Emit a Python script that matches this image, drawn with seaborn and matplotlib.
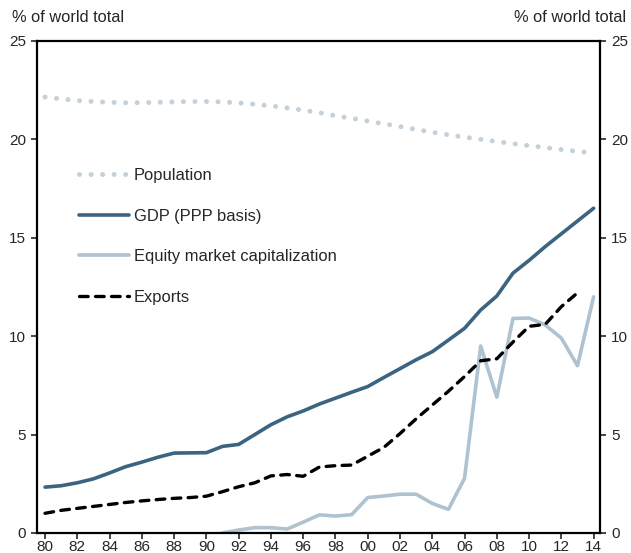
import numpy as np
import pandas as pd
import seaborn as sns
import matplotlib
matplotlib.use("Agg")
import matplotlib.pyplot as plt

years = list(range(1980, 2015))

population = [22.15, 22.05, 21.97, 21.92, 21.88, 21.86, 21.86, 21.88, 21.90, 21.92,
              21.92, 21.90, 21.85, 21.78, 21.70, 21.60, 21.48, 21.35, 21.20, 21.07,
              20.93, 20.79, 20.65, 20.50, 20.36, 20.23, 20.11, 20.00, 19.89, 19.78,
              19.68, 19.58, 19.48, 19.39, 19.30]

gdp = [2.33, 2.40, 2.55, 2.75, 3.05, 3.37, 3.60, 3.85, 4.06, 4.07,
       4.08, 4.40, 4.50, 5.00, 5.50, 5.90, 6.20, 6.55, 6.85, 7.15,
       7.44, 7.90, 8.35, 8.80, 9.21, 9.80, 10.40, 11.33, 12.04, 13.20,
       13.85, 14.55, 15.20, 15.85, 16.50]

equity_years = list(range(1991, 2015))
equity = [0.0, 0.15, 0.27, 0.27, 0.20, 0.55, 0.92, 0.86, 0.93,
          1.80, 1.88, 1.97, 1.97, 1.50, 1.20, 2.78, 9.50, 6.90, 10.90,
          10.92, 10.57, 9.90, 8.50, 12.00]

export_years = list(range(1980, 2014))
exports = [1.00, 1.15, 1.25, 1.35, 1.45, 1.55, 1.63, 1.70, 1.76, 1.80,
           1.87, 2.10, 2.35, 2.55, 2.90, 2.97, 2.88, 3.35, 3.42, 3.45,
           3.90, 4.35, 5.05, 5.80, 6.50, 7.20, 7.95, 8.75, 8.85, 9.70,
           10.50, 10.60, 11.50, 12.20]

tick_years = list(range(1980, 2015, 2))
tick_labels = [str(y)[2:] for y in tick_years]

sns.set_style("white")
plt.rcParams['font.family'] = ['Liberation Sans Narrow', 'Liberation Sans', 'DejaVu Sans']

fig = plt.figure(figsize=(6.31, 5.53), dpi=100)
ax = fig.add_axes([0.0586, 0.0362, 0.8924, 0.8898])

pop_c = "#c5d1d9"
gdp_c = "#3b6481"
eq_c = "#aec2cf"

sns.lineplot(x=years, y=population, ax=ax, color=pop_c, lw=3.6,
             linestyle=(0, (0.01, 2.3)), dash_capstyle='round', label="Population")
sns.lineplot(x=years, y=gdp, ax=ax, color=gdp_c, lw=2.6, label="GDP (PPP basis)")
sns.lineplot(x=equity_years, y=equity, ax=ax, color=eq_c, lw=2.6,
             label="Equity market capitalization")
sns.lineplot(x=export_years, y=exports, ax=ax, color="black", lw=2.4,
             linestyle=(0, (2.6, 2.2)), dash_capstyle='round', label="Exports")

ax.set_xlim(1979.5, 2014.4)
ax.set_ylim(0, 25)
ax.set_xticks(tick_years)
ax.set_xticklabels(tick_labels)
ax.set_yticks([0, 5, 10, 15, 20, 25])
ax.tick_params(axis='y', which='both', left=True, right=True, labelleft=True,
               labelright=True, direction='out', length=4, width=1.2,
               labelsize=11, pad=4)
ax.tick_params(axis='x', bottom=True, direction='out', length=4, width=1.2,
               labelsize=11, pad=1)
for s in ax.spines.values():
    s.set_linewidth(1.6)
    s.set_color("black")
ax.set_xlabel("")
ax.set_ylabel("")

fig.text(12 / 631, 1 - 17 / 553, "% of world total", fontsize=11.8, va='center', ha='left')
fig.text(626 / 631, 1 - 17 / 553, "% of world total", fontsize=11.8, va='center', ha='right')

leg = ax.legend(loc='upper left', bbox_to_anchor=(0.049, 0.772), frameon=False,
                fontsize=11.9, handlelength=3.0, handletextpad=0.3, labelspacing=1.55)

fig.savefig("out.png", dpi=100)
